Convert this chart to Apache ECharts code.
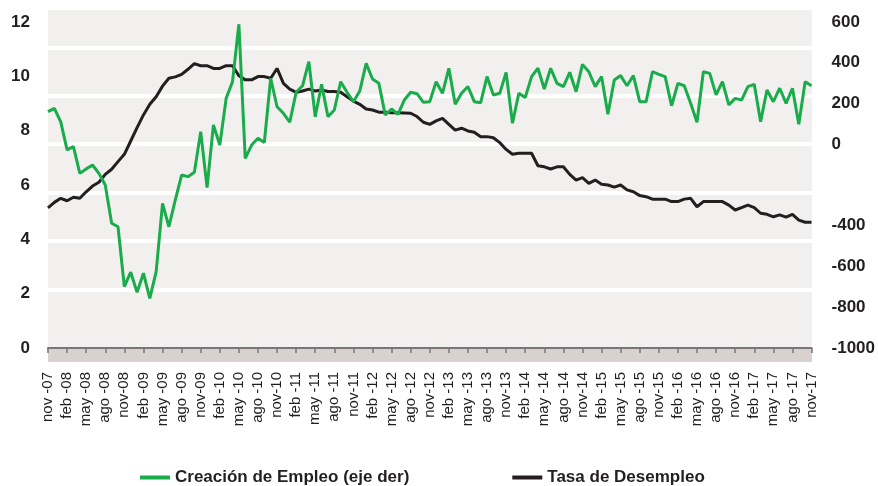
<!DOCTYPE html>
<html>
<head>
<meta charset="utf-8">
<script src="https://cdn.jsdelivr.net/npm/echarts@6/dist/echarts.min.js"></script>
<style>
  html, body { margin: 0; padding: 0; background: #fff; }
  #chart { width: 878px; height: 486px; }
</style>
</head>
<body>
<div id="chart"></div>
<script>
// meses nov-07 .. nov-17
const meses = ['ene', 'feb', 'mar', 'abr', 'may', 'jun', 'jul', 'ago', 'sep', 'oct', 'nov', 'dic'];
const categorias = [];
for (let k = 0; k < 121; k++) {
  const m = (10 + k) % 12;
  const a = 7 + Math.floor((10 + k) / 12);
  categorias.push(meses[m] + '-' + String(a).padStart(2, '0'));
}

// etiquetas del eje x (cada 3 meses)
const etiquetasX = [
  'nov -07', 'feb -08', 'may -08', 'ago -08', 'nov-08', 'feb -09', 'may -09', 'ago -09', 'nov-09',
  'feb -10', 'may -10', 'ago -10', 'nov-10', 'feb -11', 'may -11', 'ago -11', 'nov-11',
  'feb -12', 'may -12', 'ago -12', 'nov-12', 'feb -13', 'may -13', 'ago -13', 'nov-13',
  'feb -14', 'may -14', 'ago -14', 'nov-14', 'feb -15', 'may -15', 'ago -15', 'nov-15',
  'feb -16', 'may -16', 'ago -16', 'nov-16', 'feb -17', 'may -17', 'ago -17', 'nov-17'
];

// etiquetas del eje derecho
const etiquetasDer = [600, 400, 200, 0, -400, -600, -800, -1000];

// Creación de Empleo (miles, eje der)
const creacionEmpleo = [
  160, 176, 110, -28, -12, -143, -121, -102, -143, -200, -388, -405,
  -699, -628, -727, -633, -756, -625, -290, -405, -274, -151, -159, -138,
  62, -213, 95, -4, 225, 307, 589, -69, -4, 29, 9, 324,
  184, 152, 108, 255, 287, 405, 135, 294, 135, 168, 307, 255,
  209, 261, 397, 320, 299, 144, 173, 147, 217, 255, 248, 206,
  209, 307, 250, 373, 196, 250, 283, 209, 204, 332, 242, 250,
  353, 103, 250, 229, 332, 373, 271, 373, 299, 283, 353, 258,
  392, 356, 283, 332, 147, 315, 337, 287, 337, 209, 209, 356,
  343, 332, 189, 299, 287, 201, 108, 356, 348, 242, 307, 193,
  225, 217, 283, 294, 111, 266, 209, 275, 201, 275, 98, 307,
  287
];

// Tasa de Desempleo (%)
const tasaDesempleo = [
  5.16, 5.36, 5.51, 5.42, 5.55, 5.51, 5.75, 5.96, 6.10, 6.39, 6.58, 6.86,
  7.13, 7.62, 8.11, 8.58, 8.97, 9.25, 9.64, 9.93, 9.98, 10.07, 10.26, 10.47,
  10.39, 10.39, 10.29, 10.29, 10.39, 10.39, 10.02, 9.87, 9.87, 9.99, 9.99, 9.93,
  10.29, 9.74, 9.53, 9.41, 9.46, 9.53, 9.46, 9.50, 9.44, 9.44, 9.41, 9.25,
  9.09, 8.97, 8.80, 8.76, 8.68, 8.68, 8.66, 8.66, 8.65, 8.64, 8.52, 8.31,
  8.23, 8.36, 8.45, 8.23, 8.02, 8.09, 7.99, 7.94, 7.78, 7.78, 7.74, 7.56,
  7.31, 7.13, 7.17, 7.17, 7.17, 6.71, 6.67, 6.59, 6.67, 6.67, 6.39, 6.18,
  6.27, 6.06, 6.18, 6.03, 6.00, 5.92, 6.00, 5.82, 5.75, 5.61, 5.57, 5.48,
  5.48, 5.48, 5.39, 5.39, 5.48, 5.51, 5.20, 5.39, 5.39, 5.39, 5.39, 5.26,
  5.08, 5.17, 5.26, 5.17, 4.96, 4.92, 4.83, 4.90, 4.82, 4.92, 4.71, 4.63,
  4.63
];

const FUENTE = "'Liberation Sans', Arial, sans-serif";
const TEXTO = '#231f20';

const chart = echarts.init(document.getElementById('chart'));

const option = {
  animation: false,
  grid: [
    // fondo gris del área
    { left: 48, right: 66, top: 10, bottom: 138, show: true, backgroundColor: '#f1f0ef', borderWidth: 0 },
    // líneas blancas de la cuadrícula
    { left: 48, right: 66, top: 10, bottom: 148.3, show: false },
    // franja bajo el eje
    { left: 48, right: 66, top: 348, height: 14, show: true, backgroundColor: '#d9d1cd', borderWidth: 0 },
    // datos
    { left: 48, right: 66, top: 22, bottom: 138 }
  ],
  xAxis: [
    { gridIndex: 0, type: 'value', show: false },
    { gridIndex: 1, type: 'value', show: false },
    { gridIndex: 2, type: 'value', show: false },
    {
      gridIndex: 3,
      type: 'category',
      data: categorias,
      boundaryGap: false,
      z: 5,
      axisLine: { lineStyle: { color: '#777', width: 2 } },
      axisTick: { interval: 2, length: 5, lineStyle: { color: '#777', width: 1.5 } },
      axisLabel: {
        interval: 2,
        rotate: 90,
        margin: 24,
        fontSize: 15,
        color: TEXTO,
        fontFamily: FUENTE,
        formatter: function (v, i) { return etiquetasX[i / 3]; }
      }
    }
  ],
  yAxis: [
    { gridIndex: 0, type: 'value', show: false },
    {
      gridIndex: 1,
      type: 'value',
      min: 0,
      max: 6.77,
      interval: 1,
      z: 1,
      axisLine: { show: false },
      axisTick: { show: false },
      axisLabel: { show: false },
      splitLine: { show: true, showMinLine: false, showMaxLine: false, lineStyle: { color: '#fff', width: 4 } }
    },
    { gridIndex: 2, type: 'value', show: false },
    {
      gridIndex: 3,
      type: 'value',
      position: 'left',
      min: 0,
      max: 12,
      interval: 2,
      axisLine: { show: false },
      axisTick: { show: false },
      splitLine: { show: false },
      axisLabel: { margin: 18, fontSize: 17, fontWeight: 'bold', color: TEXTO, fontFamily: FUENTE }
    },
    {
      gridIndex: 3,
      type: 'value',
      position: 'right',
      min: -1000,
      max: 600,
      interval: 200,
      axisLine: { show: false },
      axisTick: { show: false },
      splitLine: { show: false },
      axisLabel: {
        customValues: etiquetasDer,
        margin: 20,
        fontSize: 17,
        fontWeight: 'bold',
        color: TEXTO,
        fontFamily: FUENTE,
        formatter: function (v) { return String(v); }
      }
    }
  ],
  legend: {
    data: ['Creación de Empleo (eje der)', 'Tasa de Desempleo'],
    left: 135,
    top: 464,
    icon: 'rect',
    itemWidth: 30,
    itemHeight: 4,
    itemGap: 103,
    textStyle: { fontSize: 17, fontWeight: 'bold', color: TEXTO, fontFamily: FUENTE }
  },
  series: [
    {
      name: 'Tasa de Desempleo',
      type: 'line',
      xAxisIndex: 3,
      yAxisIndex: 3,
      data: tasaDesempleo,
      symbol: 'none',
      z: 3,
      lineStyle: { width: 3, color: '#231f20' },
      itemStyle: { color: '#231f20' }
    },
    {
      name: 'Creación de Empleo (eje der)',
      type: 'line',
      xAxisIndex: 3,
      yAxisIndex: 4,
      data: creacionEmpleo,
      symbol: 'none',
      z: 4,
      lineStyle: { width: 3, color: '#1aab4b' },
      itemStyle: { color: '#1aab4b' }
    }
  ]
};

chart.setOption(option);
</script>
</body>
</html>
